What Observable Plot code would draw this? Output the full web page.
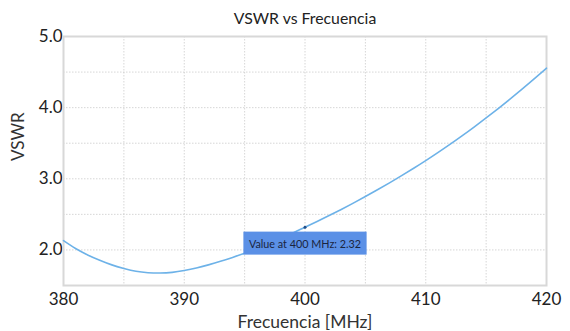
<!DOCTYPE html>
<html>
<head>
<meta charset="utf-8">
<script src="https://cdn.jsdelivr.net/npm/d3@7"></script>
<script src="https://cdn.jsdelivr.net/npm/@observablehq/plot@0.6"></script>
<style>
  html, body { margin: 0; padding: 0; background: #fff; }
  #chart svg { display: block; }
</style>
</head>
<body>
<div id="chart"></div>
<script>
const title = "VSWR vs Frecuencia";
const xLabel = "Frecuencia [MHz]";
const yLabel = "VSWR";
const freq = [380,381,382,383,384,385,386,387,388,389,390,391,392,393,394,395,396,397,398,399,400,
              401,402,403,404,405,406,407,408,409,410,411,412,413,414,415,416,417,418,419,420];
const vswr = [2.13,2.02,1.93,1.855,1.79,1.74,1.70,1.68,1.675,1.685,1.71,1.745,1.79,1.84,1.895,1.955,2.02,2.09,2.165,2.24,2.32,
              2.40,2.483,2.569,2.658,2.75,2.845,2.943,3.044,3.148,3.255,3.367,3.483,3.603,3.727,3.855,3.987,4.123,4.263,4.407,4.555];
const xTicks = [380, 390, 400, 410, 420];
const yTicks = [2.0, 3.0, 4.0, 5.0];
const xGrid = [385, 390, 395, 400, 405, 410, 415];
const yGrid = [2.0, 2.5, 3.0, 3.5, 4.0, 4.5];
const markerFreq = [400];
const markerValue = [2.32];

const data = freq.map((f, i) => ({f, v: vswr[i]}));
const marker = markerFreq.map((f, i) => ({f, v: markerValue[i], label: `Value at ${f} MHz: ${markerValue[i].toFixed(2)}`}));

const plot = Plot.plot({
  width: 570,
  height: 331,
  marginLeft: 63,
  marginRight: 24,
  marginTop: 36,
  marginBottom: 46,
  style: {fontFamily: "Lato, 'Open Sans', sans-serif", fontSize: "17px", color: "#222", background: "#fff"},
  x: {domain: [380, 420], ticks: xTicks, tickSize: 0, tickPadding: 7, label: null},
  y: {domain: [1.5, 5.0], ticks: yTicks, tickFormat: d3.format(".1f"), tickSize: 0, tickPadding: 1, label: null},
  marks: [
    Plot.gridX(xGrid, {stroke: "#bbb", strokeOpacity: 0.6, strokeDasharray: "1.5,1.5"}),
    Plot.gridY(yGrid, {stroke: "#bbb", strokeOpacity: 0.6, strokeDasharray: "1.5,1.5"}),
    Plot.frame({stroke: "#d8d8d8", strokeWidth: 2}),
    Plot.line(data, {x: "f", y: "v", stroke: "#6db2e8", strokeWidth: 1.6, curve: "natural"}),
    Plot.dot(marker, {x: "f", y: "v", r: 1.5, fill: "#1f4f8a"}),
    Plot.text(marker, {x: "f", y: "v", text: "label", dy: 17, fontSize: 10.8, fill: "#1a2540", className: "vtip"}),
    Plot.text([title], {frameAnchor: "top", dy: -24, fontSize: 15.8, fill: "#222"}),
    Plot.text([xLabel], {frameAnchor: "bottom", dy: 37, lineAnchor: "middle", fontSize: 17.5, fill: "#333"}),
    Plot.text([yLabel], {frameAnchor: "left", dx: -45, rotate: -90, fontSize: 17, fill: "#333"})
  ]
});
document.getElementById("chart").appendChild(plot);

// blue background box behind the annotation text
const tipGroup = plot.querySelector("g.vtip") || plot.querySelector(".vtip");
if (tipGroup) {
  tipGroup.querySelectorAll("text").forEach(t => {
    const b = t.getBBox();
    const padX = 5.5, padY = 5;
    const r = document.createElementNS("http://www.w3.org/2000/svg", "rect");
    r.setAttribute("x", b.x - padX);
    r.setAttribute("y", b.y - padY);
    r.setAttribute("width", b.width + 2 * padX);
    r.setAttribute("height", b.height + 2 * padY);
    r.setAttribute("fill", "#5b90e6");
    const tr = t.getAttribute("transform");
    if (tr) r.setAttribute("transform", tr);
    t.parentNode.insertBefore(r, t);
  });
}
</script>
</body>
</html>
